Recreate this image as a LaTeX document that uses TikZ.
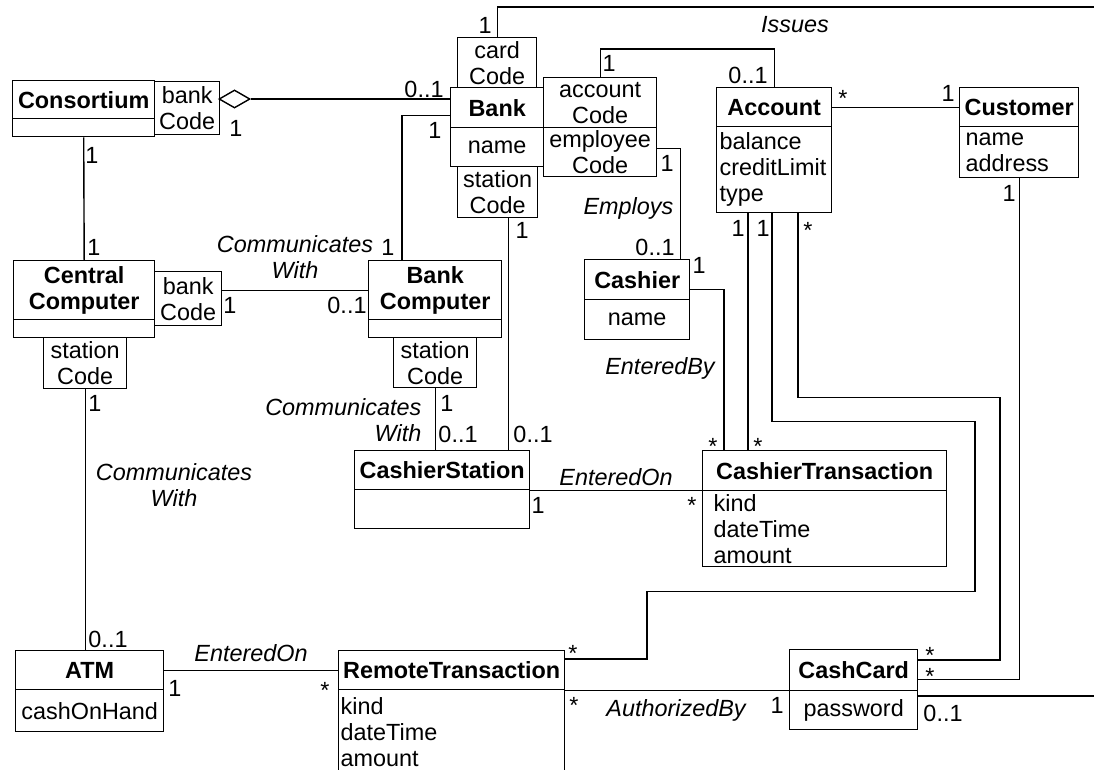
\documentclass[tikz,border=0pt]{standalone}
\usepackage{fontspec}
\setmainfont{Liberation Sans}
\usepackage{tikz}
\usetikzlibrary{shapes}

\begin{document}
\begin{tikzpicture}[x=1pt, y=-1pt, line width=1.4pt,
        execute at begin picture={\fontsize{23.4}{26}\selectfont},
        cls/.style={draw, anchor=north west, inner sep=0pt, align=center, font=\bfseries},
        qual/.style={draw, anchor=north west, inner sep=0pt, align=center},
        attrs/.style={draw, anchor=north west, inner ysep=0pt, align=left},
        mult/.style={inner sep=0pt},
        many/.style={inner sep=0pt, yshift=-5pt},
        assoc/.style={inner sep=0pt, align=center, font=\itshape}]
        \useasboundingbox (0, 0) rectangle (1094, 769);
        \clip (0, 0) rectangle (1094, 769);

        \draw (12, 80) node[cls, minimum width=142pt, minimum height=38pt] (consortium) {Consortium};
        \draw (12, 118) node[cls, minimum width=142pt, minimum height=18pt] (consattr) {};
        \draw (154, 81) node[qual, minimum width=65pt, minimum height=53pt] (consqual) {bank\\Code};
        \draw (234.5, 99) node[draw, diamond, fill=white, inner sep=0pt, minimum width=31pt, minimum height=18pt] (agg) {};

        \draw (457, 37) node[qual, minimum width=79pt, minimum height=50pt] (bankcard) {card\\Code};
        \draw (450, 87) node[cls, minimum width=93pt, minimum height=40pt] (bank) {Bank};
        \draw (450, 127) node[qual, minimum width=93pt, minimum height=39pt] (bankattr) {name};
        \draw (457, 166) node[qual, minimum width=80pt, minimum height=51pt] (bankstat) {station\\Code};
        \draw (543, 77) node[qual, minimum width=113pt, minimum height=50pt] (bankacc) {account\\Code};
        \draw (543, 127) node[qual, minimum width=113pt, minimum height=49pt] (bankemp) {employee\\Code};

        \draw (716, 87) node[cls, minimum width=115pt, minimum height=39pt] (account) {Account};
        \draw (716, 126) node[attrs, inner xsep=3pt, text width=109pt, minimum height=86pt] (accattr) {balance\\creditLimit\\type};
        \draw (959, 87) node[cls, minimum width=119pt, minimum height=39pt] (customer) {Customer};
        \draw (959, 126) node[attrs, inner xsep=6pt, text width=107pt, minimum height=51pt] (custattr) {name\\address};

        \draw (13, 260) node[cls, minimum width=141pt, minimum height=59pt] (cc) {Central\\Computer};
        \draw (13, 319) node[cls, minimum width=141pt, minimum height=18pt] (ccattr) {};
        \draw (154, 271) node[qual, minimum width=67pt, minimum height=54pt] (ccqual) {bank\\Code};
        \draw (43, 337) node[qual, minimum width=83pt, minimum height=51pt] (ccstat) {station\\Code};

        \draw (368, 260) node[cls, minimum width=133pt, minimum height=59pt] (bankcomp) {Bank\\Computer};
        \draw (368, 319) node[cls, minimum width=133pt, minimum height=18pt] (bcattr) {};
        \draw (393, 337) node[qual, minimum width=83pt, minimum height=50pt] (bcstat) {station\\Code};

        \draw (584, 259) node[cls, minimum width=105pt, minimum height=40pt] (cashier) {Cashier};
        \draw (584, 299) node[qual, minimum width=105pt, minimum height=40pt] (cashattr) {name};

        \draw (354, 450) node[cls, minimum width=175pt, minimum height=39pt] (cstation) {CashierStation};
        \draw (354, 489) node[cls, minimum width=175pt, minimum height=39pt] (csattr) {};
        \draw (702, 450) node[cls, minimum width=244pt, minimum height=40pt] (ctrans) {CashierTransaction};
        \draw (702, 490) node[attrs, inner xsep=11pt, text width=222pt, minimum height=76pt] (ctattr) {kind\\dateTime\\amount};

        \draw (15, 650) node[cls, minimum width=148pt, minimum height=39pt] (atm) {ATM};
        \draw (15, 689) node[qual, minimum width=148pt, minimum height=42pt] (atmattr) {cashOnHand};
        \draw (338, 650) node[cls, minimum width=226pt, minimum height=39pt] (remote) {RemoteTransaction};
        \draw (338, 689) node[attrs, inner xsep=2pt, text width=222pt, minimum height=84pt] (remattr) {kind\\dateTime\\amount};
        \draw (789, 649) node[cls, minimum width=128pt, minimum height=41pt] (cashcard) {CashCard};
        \draw (789, 690) node[qual, minimum width=128pt, minimum height=39pt] (cardattr) {password};

        \coordinate (issuesend) at (1094, 7);
        \coordinate (cardend) at (1094, 696);

        \draw (bankcard.north) |- (issuesend);
        \draw (bankacc.north) -- ++(0, -28) -| (account.north);
        \draw ([yshift=4pt]bankemp.east) -| ([xshift=-10pt]cashier.north east);
        \draw ([yshift=-8pt]bank.west) -| ([xshift=34pt]bankcomp.north west);
        \draw (agg.east) -- (agg.east -| bank.west);
        \draw ([xshift=11pt]bankstat.south) coordinate (bs) -- (bs |- cstation.north);
        \draw (account.east) -- (customer.west);
        \draw ([xshift=32pt]accattr.south west) coordinate (ac1) -- (ac1 |- ctrans.north);
        \draw ([xshift=56pt]accattr.south west) -- ++(0, 208) -- ++(203, 0) -- ++(0, 170) -- ++(-328, 0) |- ([yshift=-9pt]remote.north east);
        \draw ([xshift=82pt]accattr.south west) -- ++(0, 184) -- ++(202, 0) |- ([yshift=-11pt]cashcard.north east);
        \draw (custattr.south) |- ([yshift=-9pt]cashcard.east);
        \draw (consattr.south) -- (cc.north);
        \draw (bankcomp.west) -- (bankcomp.west -| ccqual.east);
        \draw (ccstat.south) -- (ccstat.south |- atm.north);
        \draw (bcstat.south) -- (bcstat.south |- cstation.north);
        \draw ([yshift=-10pt]cashier.east) -| ([xshift=22pt]ctrans.north west);
        \draw (cstation.south east) -- (cstation.south east -| ctrans.west);
        \draw (atm.east) -- (atm.east -| remote.west);
        \draw (remote.south east) -- (remote.south east -| cashcard.west);
        \draw ([yshift=-6pt]cardattr.north east) -- (cardend);

        \draw (795, 25) node[assoc] (issues) {Issues};
        \draw (674, 208) node[assoc, anchor=east] (employs) {Employs};
        \draw (660, 368) node[assoc] (enteredby) {EnteredBy};
        \draw (295, 257) node[assoc] (commtop) {Communicates\\With};
        \draw (422, 420) node[assoc, anchor=east, align=right] (commmid) {Communicates\\With};
        \draw (174, 485) node[assoc] (commleft) {Communicates\\With};
        \draw (616, 477) node[assoc] (enteredcs) {EnteredOn};
        \draw (251, 653) node[assoc] (enteredatm) {EnteredOn};
        \draw (676, 710) node[assoc] (authorized) {AuthorizedBy};

        \draw (485, 25) node[mult] (m1) {1};
        \draw (609, 63) node[mult] (m2) {1};
        \draw (748, 75) node[mult] (m3) {0..1};
        \draw (424, 89) node[mult] (m4) {0..1};
        \draw (236, 128) node[mult] (m5) {1};
        \draw (435, 130) node[mult] (m6) {1};
        \draw (92, 155) node[mult] (m7) {1};
        \draw (667, 163) node[mult] (m8) {1};
        \draw (522, 230) node[mult] (m9) {1};
        \draw (655, 247) node[mult] (m10) {0..1};
        \draw (388, 247) node[mult] (m11) {1};
        \draw (94, 247) node[mult] (m12) {1};
        \draw (699, 265) node[mult] (m13) {1};
        \draw (843, 93) node[many] (m14) {*};
        \draw (948, 93) node[mult] (m15) {1};
        \draw (1009, 193) node[mult] (m16) {1};
        \draw (738, 228) node[mult] (m17) {1};
        \draw (763, 228) node[mult] (m18) {1};
        \draw (808, 225) node[many] (m19) {*};
        \draw (230, 305) node[mult] (m20) {1};
        \draw (347, 305) node[mult] (m21) {0..1};
        \draw (95, 403) node[mult] (m22) {1};
        \draw (447, 403) node[mult] (m23) {1};
        \draw (458, 434) node[mult] (m24) {0..1};
        \draw (533, 434) node[mult] (m25) {0..1};
        \draw (108, 639) node[mult] (m26) {0..1};
        \draw (713, 441) node[many] (m27) {*};
        \draw (758, 441) node[many] (m28) {*};
        \draw (538, 505) node[mult] (m29) {1};
        \draw (692, 500) node[many] (m30) {*};
        \draw (175, 688) node[mult] (m31) {1};
        \draw (325, 685) node[many] (m32) {*};
        \draw (573, 648) node[many] (m33) {*};
        \draw (574, 700) node[many] (m34) {*};
        \draw (777, 705) node[mult] (m35) {1};
        \draw (943, 713) node[mult] (m36) {0..1};
        \draw (930, 650) node[many] (m37) {*};
        \draw (930, 671) node[many] (m38) {*};
    \end{tikzpicture}
\end{document}
